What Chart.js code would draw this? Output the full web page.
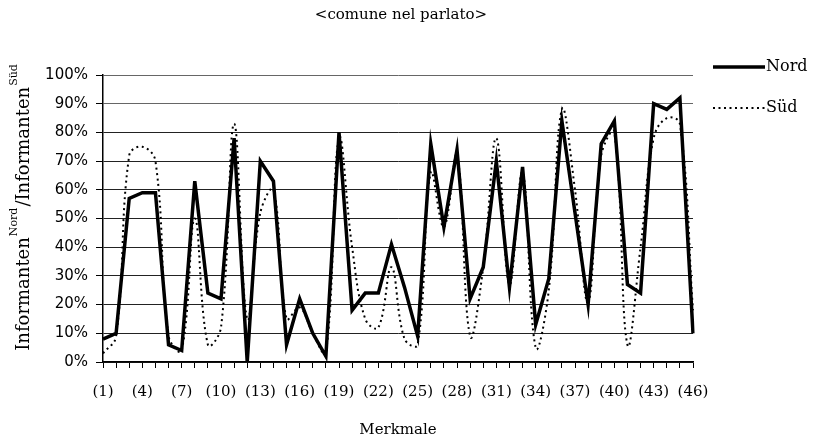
<!DOCTYPE html>
<html>
<head>
<meta charset="utf-8">
<script src="https://cdn.jsdelivr.net/npm/chart.js@4.4.1/dist/chart.umd.min.js"></script>
<style>
  html, body { margin: 0; padding: 0; background: #fff; }
</style>
</head>
<body>
<canvas id="myChart" width="819" height="443"></canvas>
<script>
/* data */
const merkmale = ['(1)', '(2)', '(3)', '(4)', '(5)', '(6)', '(7)', '(8)', '(9)', '(10)',
    '(11)', '(12)', '(13)', '(14)', '(15)', '(16)', '(17)', '(18)', '(19)', '(20)',
    '(21)', '(22)', '(23)', '(24)', '(25)', '(26)', '(27)', '(28)', '(29)', '(30)',
    '(31)', '(32)', '(33)', '(34)', '(35)', '(36)', '(37)', '(38)', '(39)', '(40)',
    '(41)', '(42)', '(43)', '(44)', '(45)', '(46)'];

const nordValues = [8, 10, 57, 59, 59, 6, 4, 63, 24, 22,
    78, 0, 70, 63, 6, 22, 10, 2, 80, 18,
    24, 24, 41, 26, 9, 76, 47, 74, 22, 33,
    70, 26, 68, 13, 29, 84, 52, 20, 76, 84,
    27, 24, 90, 88, 92, 10];

const suedValues = [3, 9, 72, 75, 70, 9, 4, 50, 6, 12,
    83, 15, 52, 60, 15, 19, 10, 3, 78, 40,
    15, 12, 33, 8, 6, 66, 47, 72, 9, 33,
    78, 27, 66, 5, 25, 88, 60, 21, 72, 80,
    6, 40, 78, 85, 83, 18];

const seriesNames = ['Nord', 'Süd'];
const chartTitle = '<comune nel parlato>';

const serif = 'DejaVu Serif';

// title is drawn by hand: in the original it is centred a bit right of the plot
const topTitle = {
    id: 'topTitle',
    afterDraw(chart) {
        const ctx = chart.ctx;
        ctx.save();
        ctx.fillStyle = '#000';
        ctx.font = '15px "' + serif + '"';
        ctx.textAlign = 'center';
        ctx.textBaseline = 'middle';
        ctx.fillText(chartTitle, 401, 15);
        ctx.restore();
    }
};

// legend at the right, drawn by hand so it sits where the original has it
const sideLegend = {
    id: 'sideLegend',
    afterDraw(chart) {
        const ctx = chart.ctx;
        const rows = [
            { y: 67, dash: [], width: 3.5 },
            { y: 108, dash: [2, 3.5], width: 2 }
        ];
        ctx.save();
        chart.data.datasets.forEach((ds, i) => {
            const r = rows[i];
            ctx.beginPath();
            ctx.setLineDash(r.dash);
            ctx.lineWidth = r.width;
            ctx.strokeStyle = '#000';
            ctx.moveTo(713, r.y);
            ctx.lineTo(765, r.y);
            ctx.stroke();
            ctx.setLineDash([]);
            ctx.fillStyle = '#000';
            ctx.font = '16px "' + serif + '"';
            ctx.textBaseline = 'middle';
            ctx.fillText(ds.label, 766, r.y);
        });
        ctx.restore();
    }
};

// y axis title with superscripts: Informanten^Nord / Informanten^Süd
const yTitle = {
    id: 'yTitle',
    afterDraw(chart) {
        const ctx = chart.ctx;
        const parts = [
            { t: 'Informanten', sup: false },
            { t: 'Nord', sup: true },
            { t: '/Informanten', sup: false },
            { t: 'Süd', sup: true }
        ];
        const bigFont = '18px "' + serif + '"';
        const smallFont = '11px "' + serif + '"';
        ctx.save();
        let total = 0;
        parts.forEach(p => {
            ctx.font = p.sup ? smallFont : bigFont;
            p.w = ctx.measureText(p.t).width + (p.sup ? 2 : 0);
            total += p.w;
        });
        ctx.translate(29, 207);
        ctx.rotate(-Math.PI / 2);
        ctx.fillStyle = '#000';
        ctx.textBaseline = 'alphabetic';
        let x = -total / 2;
        parts.forEach(p => {
            ctx.font = p.sup ? smallFont : bigFont;
            ctx.fillText(p.t, x + (p.sup ? 1 : 0), p.sup ? -12 : 0);
            x += p.w;
        });
        ctx.restore();
    }
};

const chart = new Chart(document.getElementById('myChart'), {
    type: 'line',
    data: {
        labels: merkmale,
        datasets: [{
            label: seriesNames[0],
            data: nordValues,
            borderColor: '#000',
            borderWidth: 3.5,
            tension: 0,
            pointRadius: 0,
            borderJoinStyle: 'miter'
        }, {
            label: seriesNames[1],
            data: suedValues,
            borderColor: '#000',
            borderWidth: 2,
            borderDash: [2, 3.5],
            tension: 0.4,
            pointRadius: 0
        }]
    },
    options: {
        responsive: false,
        animation: false,
        layout: {
            padding: { left: 0, right: 126, top: 75, bottom: 0 }
        },
        scales: {
            x: {
                grid: { drawOnChartArea: false, drawTicks: true, tickLength: 6, color: '#000' },
                border: { color: '#000', width: 1.5 },
                ticks: {
                    autoSkip: false,
                    maxRotation: 0,
                    minRotation: 0,
                    padding: 15,
                    color: '#000',
                    font: { family: serif, size: 15 },
                    callback: function (v, i) {
                        return i % 3 === 0 ? this.getLabelForValue(v) : '';
                    }
                },
                title: {
                    display: true,
                    text: 'Merkmale',
                    color: '#000',
                    font: { family: serif, size: 15 },
                    padding: { top: 0, bottom: 4 }
                },
                afterFit: s => { s.height = 81; }
            },
            y: {
                min: 0,
                max: 100,
                ticks: {
                    stepSize: 10,
                    padding: 8,
                    color: '#000',
                    font: { family: 'DejaVu Sans', size: 15 },
                    callback: v => v + '%'
                },
                grid: {
                    color: c => (c.tick && c.tick.value >= 90 ? '#666' : '#222'),
                    tickColor: '#000',
                    lineWidth: 1,
                    tickLength: 7
                },
                border: { color: '#000', width: 1.5 },
                afterFit: s => { s.width = 103; }
            }
        },
        plugins: {
            legend: { display: false },
            tooltip: { enabled: false },
            title: { display: false }
        }
    },
    plugins: [topTitle, sideLegend, yTitle]
});
</script>
</body>
</html>
